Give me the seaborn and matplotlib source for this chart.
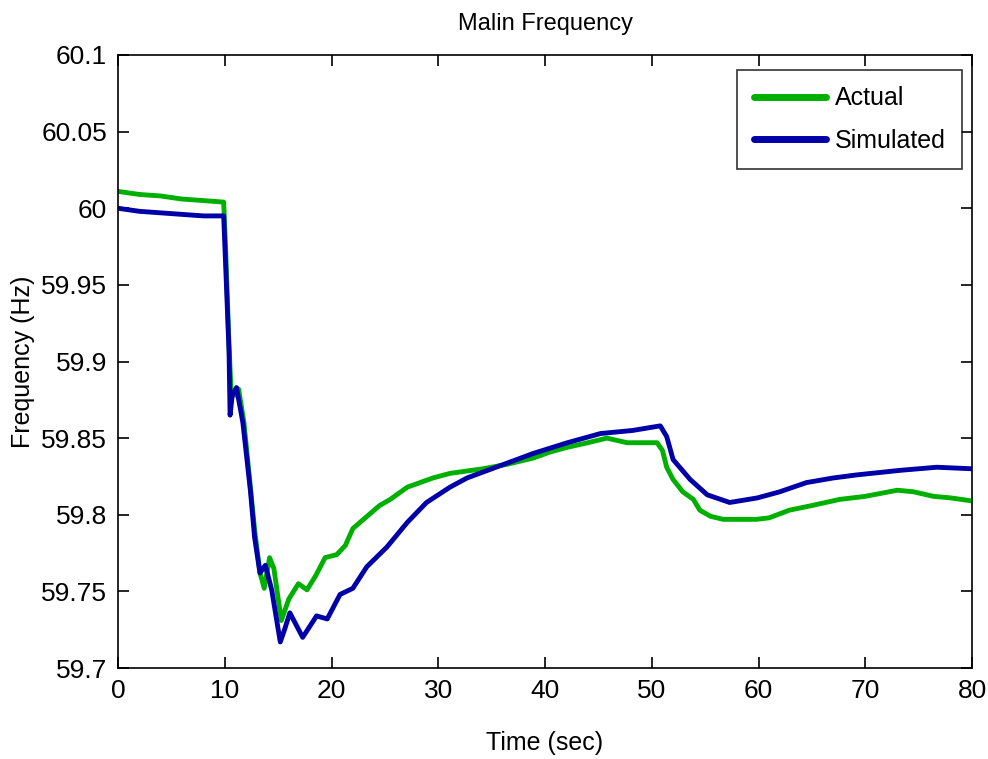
import numpy as np
import pandas as pd
import matplotlib
matplotlib.use("Agg")
import matplotlib.pyplot as plt
import seaborn as sns
from matplotlib import font_manager as fm

# ---- data ----
actual_t = [0, 2, 4, 6, 8, 9.9, 10.1, 10.4, 10.6, 11.0, 11.3, 11.8, 12.4, 12.8, 13.3, 13.7,
            14.2, 14.6, 15.3, 16.0, 16.9, 17.7, 18.5, 19.4, 20.5, 21.3, 22.0, 23.0, 24.5, 25.5,
            27.1, 29.5, 31.1, 34.2, 36.5, 38.9, 40.5, 42.1, 44.0, 45.8, 47.7, 50.5, 51.0, 51.4,
            52.0, 52.9, 53.9, 54.5, 55.5, 56.7, 58.0, 59.8, 61.0, 62.9, 65.0, 67.6, 70.0, 73.0,
            74.5, 76.4, 78.0, 80]
actual_f = [60.011, 60.009, 60.008, 60.006, 60.005, 60.004, 59.97, 59.91, 59.88, 59.878, 59.882,
            59.86, 59.818, 59.79, 59.762, 59.752, 59.772, 59.765, 59.731, 59.745, 59.755, 59.751,
            59.76, 59.772, 59.774, 59.78, 59.791, 59.797, 59.806, 59.81, 59.818, 59.824, 59.827,
            59.830, 59.833, 59.837, 59.841, 59.844, 59.847, 59.850, 59.847, 59.847, 59.842,
            59.831, 59.823, 59.815, 59.810, 59.803, 59.799, 59.797, 59.797, 59.797, 59.798,
            59.803, 59.806, 59.810, 59.812, 59.816, 59.815, 59.812, 59.811, 59.809]

sim_t = [0, 2, 4, 6, 8, 9.9, 10.1, 10.4, 10.5, 10.7, 11.1, 11.7, 12.4, 12.8, 13.3, 13.8, 14.4,
         15.2, 15.6, 16.1, 17.3, 18.6, 19.6, 20.8, 22.0, 23.3, 25.2, 27.1, 28.9, 31.1, 32.7,
         35.8, 38.9, 42.1, 45.2, 48.2, 50.8, 51.4, 52.0, 53.6, 55.2, 57.3, 59.9, 62.0, 64.5,
         67.0, 69.2, 73.3, 76.7, 80]
sim_f = [60.000, 59.998, 59.997, 59.996, 59.995, 59.995, 59.96, 59.907, 59.865, 59.878, 59.883,
         59.860, 59.816, 59.785, 59.762, 59.767, 59.751, 59.717, 59.725, 59.736, 59.720, 59.734,
         59.732, 59.748, 59.752, 59.766, 59.779, 59.795, 59.808, 59.818, 59.824, 59.832, 59.840,
         59.847, 59.853, 59.855, 59.858, 59.851, 59.836, 59.823, 59.813, 59.808, 59.811, 59.815,
         59.821, 59.824, 59.826, 59.829, 59.831, 59.830]

series_names = ["Actual", "Simulated"]
x_ticks = [0, 10, 20, 30, 40, 50, 60, 70, 80]
y_ticks = [59.7, 59.75, 59.8, 59.85, 59.9, 59.95, 60.0, 60.05, 60.1]
y_tick_labels = ["59.7", "59.75", "59.8", "59.85", "59.9", "59.95", "60", "60.05", "60.1"]

df = pd.concat([
    pd.DataFrame({"t": actual_t, "f": actual_f, "series": series_names[0]}),
    pd.DataFrame({"t": sim_t, "f": sim_f, "series": series_names[1]}),
], ignore_index=True)

# ---- style ----
sns.set_style("ticks")
names = {f.name for f in fm.fontManager.ttflist}
fam = "Liberation Sans Narrow" if "Liberation Sans Narrow" in names else "Liberation Sans"
plt.rcParams["font.family"] = [fam, "DejaVu Sans"]
plt.rcParams["text.color"] = "black"
plt.rcParams["axes.labelcolor"] = "black"

fig = plt.figure(figsize=(9.88, 7.59), dpi=100)
ax = fig.add_axes([118 / 988, 1 - 668 / 759, (972 - 118) / 988, (668 - 55) / 759])

palette = {"Actual": "#00B000", "Simulated": "#0000A8"}
sns.lineplot(data=df, x="t", y="f", hue="series", palette=palette, sort=False,
             estimator=None, linewidth=3.5, ax=ax, legend=True)

ax.set_xlim(0, 80)
ax.set_ylim(59.7, 60.1)
ax.set_xticks(x_ticks)
ax.set_xticklabels([str(v) for v in x_ticks])
ax.set_yticks(y_ticks)
ax.set_yticklabels(y_tick_labels)
ax.tick_params(direction="in", length=8, width=1.2, top=True, right=True,
               labelsize=19, colors="black", pad=8)
for s in ax.spines.values():
    s.set_visible(True)
    s.set_color("black")
    s.set_linewidth(1.2)

ax.set_title("Malin Frequency", fontsize=17, pad=18, color="black")
ax.set_xlabel("Time (sec)", fontsize=18, labelpad=20)
ax.set_ylabel("Frequency (Hz)", fontsize=18, labelpad=4)

leg = ax.legend(loc="upper right", bbox_to_anchor=(962 / 988, 1 - 70 / 759),
                bbox_transform=fig.transFigure, borderaxespad=0, fontsize=18,
                frameon=True, fancybox=False, handlelength=2.9, handletextpad=0.35,
                labelspacing=0.75, borderpad=0.65)
leg.get_frame().set_edgecolor("black")
leg.get_frame().set_linewidth(1.2)
for line in leg.get_lines():
    line.set_linewidth(5)

fig.savefig("out.png", dpi=100)
